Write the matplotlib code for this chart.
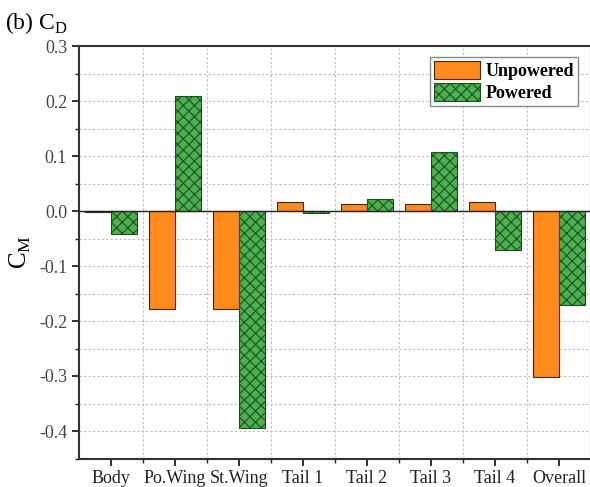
import matplotlib
matplotlib.use("Agg")
import matplotlib.pyplot as plt
import numpy as np
from matplotlib.ticker import MultipleLocator

categories = ["Body", "Po.Wing", "St.Wing", "Tail 1", "Tail 2", "Tail 3", "Tail 4", "Overall"]
unpowered = [-0.002, -0.179, -0.179, 0.017, 0.012, 0.012, 0.017, -0.302]
powered = [-0.042, 0.210, -0.394, -0.004, 0.022, 0.108, -0.071, -0.171]
ytick_vals = [-0.4, -0.3, -0.2, -0.1, 0.0, 0.1, 0.2, 0.3]
ytick_labels = ["-0.4", "-0.3", "-0.2", "-0.1", "0.0", "0.1", "0.2", "0.3"]

plt.rcParams['font.family'] = ['Liberation Serif', 'DejaVu Serif']
plt.rcParams['mathtext.fontset'] = 'custom'
plt.rcParams['mathtext.rm'] = 'Liberation Serif'
plt.rcParams['hatch.linewidth'] = 0.8

W, H = 590, 487
fig = plt.figure(figsize=(W / 100, H / 100), dpi=100)
left, right, top, bottom = 79, 591, 46, 458.5
ax = fig.add_axes([left / W, 1 - bottom / H, (right - left) / W, (bottom - top) / H])

x = np.arange(len(categories))
bw = 0.4
ax.bar(x - bw / 2, unpowered, bw, color='#FF8A1E', edgecolor='#3a2a10', linewidth=0.8,
       label='Unpowered', zorder=3)
ax.bar(x + bw / 2, powered, bw, color='#4CAF50', edgecolor='#1d4f1d', linewidth=0.8,
       hatch='xxx', label='Powered', zorder=3)
ax.axhline(0, color='#222222', lw=1.0, zorder=4)

ax.set_xlim(-0.5, len(categories) - 0.5)
ax.set_ylim(-0.45, 0.3)
ax.set_xticks(x)
ax.set_xticklabels(categories, fontsize=13)
ax.set_xticks(x[:-1] + 0.5, minor=True)
ax.set_yticks(ytick_vals)
ax.set_yticklabels(ytick_labels, fontsize=13, color='#444444')
ax.yaxis.set_minor_locator(MultipleLocator(0.05))
ax.tick_params(axis='both', which='major', direction='out', length=5, width=1.3, colors='#222222')
ax.tick_params(axis='both', which='minor', direction='out', length=3, width=1.0, colors='#222222')
for lab in ax.get_yticklabels():
    lab.set_color('#444444')

ax.grid(True, which='minor', axis='x', linestyle=(0, (2, 2)), color='#bbbbbb', lw=0.8, zorder=0)
ax.grid(True, which='both', axis='y', linestyle=(0, (2, 2)), color='#bbbbbb', lw=0.8, zorder=0)
ax.grid(False, which='major', axis='x')

for s in ax.spines.values():
    s.set_linewidth(1.5)
    s.set_color('#333333')

ax.set_ylabel(r"C$_\mathregular{M}$", fontsize=18, labelpad=4)

leg = ax.legend(loc='upper right', bbox_to_anchor=(578 / W, 1 - 57 / H),
                bbox_transform=fig.transFigure, fancybox=False, framealpha=1,
                edgecolor='#888888', prop={'weight': 'bold', 'size': 13},
                handlelength=2.6, handleheight=1.2, handletextpad=0.3,
                borderpad=0.2, labelspacing=0.15, borderaxespad=0)
leg.get_frame().set_linewidth(1.0)

fig.text(5 / W, 1 - 29 / H, r"(b) C$_\mathregular{D}$", fontsize=17, ha='left', va='baseline')

fig.savefig("out.png", dpi=100)
